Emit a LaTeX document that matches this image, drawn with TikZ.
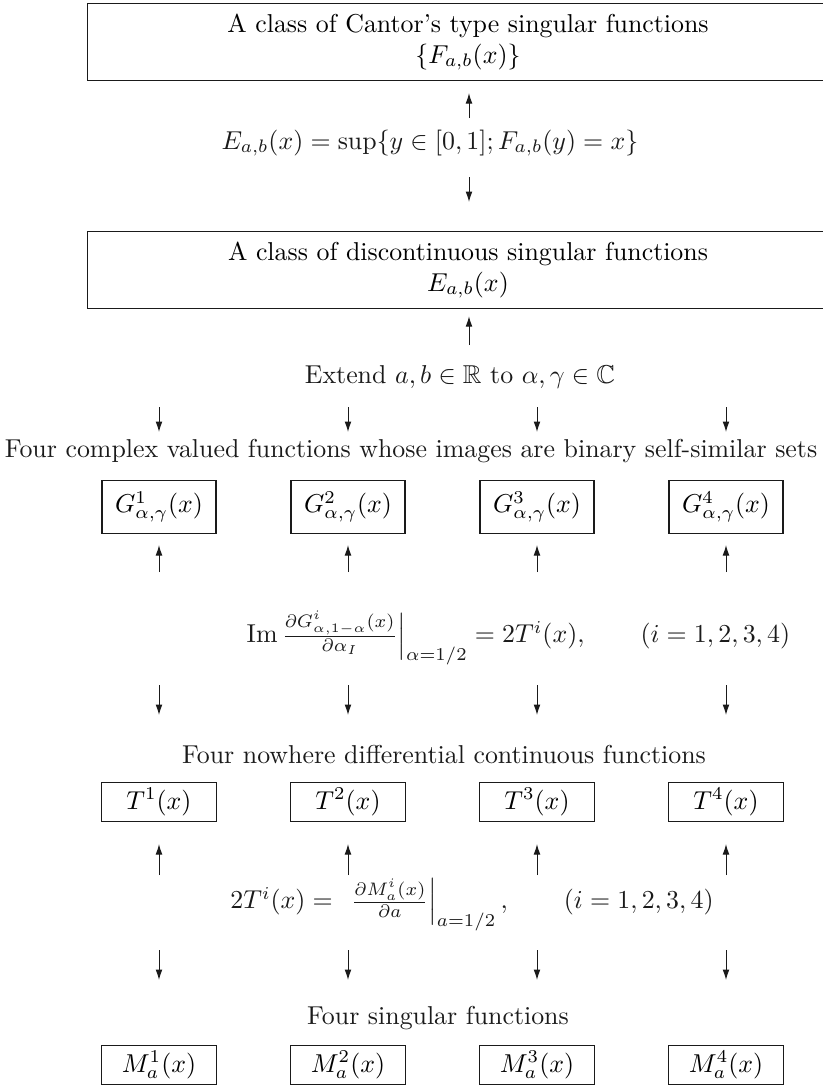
\RequirePackage{fix-cm}
\documentclass[tikz,border=0pt]{standalone}
\usepackage{amsmath}
\usepackage{amssymb}
\usetikzlibrary{arrows.meta}
\definecolor{ink}{HTML}{1A1A1A}

\begin{document}
\begin{tikzpicture}[x=0.41pt,y=-0.41pt,font=\fontsize{10.6}{12.7}\selectfont,
  wide/.style={draw=ink,line width=0.5pt,minimum width=312pt,minimum height=31.6pt,
               inner sep=0pt,align=center},
  gbox/.style={draw=ink,line width=0.5pt,minimum width=46.7pt,minimum height=21.7pt,inner sep=0pt},
  tbox/.style={draw=ink,line width=0.5pt,minimum width=47pt,minimum height=16pt,inner sep=0pt},
  lbl/.style={inner sep=1pt,text=ink},
  arr/.style={-{Latex[length=4.3pt,width=2.8pt]},ink,line width=0.4pt}]
  \useasboundingbox (0,0) rectangle (823,1088);
  % the two wide boxes
  \node[wide] (cantor) at (468,42) {A class of Cantor's type singular functions\\ $\{F_{a,b}(x)\}$};
  \node[lbl] (inv) at (430,143) {$E_{a,b}(x)=\sup\{y\in[0,1];F_{a,b}(y)=x\}$};
  \node[wide] (disc) at (468,270) {A class of discontinuous singular functions\\ $E_{a,b}(x)$};
  \node[lbl] (ext) at (460,377) {Extend $a,b\in\mathbb{R}$ to $\alpha,\gamma\in\mathbb{C}$};
  % complex valued functions
  \node[lbl] (cplx) at (411,451) {Four complex valued functions whose images are binary self-similar sets};
  \node[gbox] (g1) at (159,507) {$G^1_{\alpha,\gamma}(x)$};
  \node[gbox] (g2) at (348,507) {$G^2_{\alpha,\gamma}(x)$};
  \node[gbox] (g3) at (537,507) {$G^3_{\alpha,\gamma}(x)$};
  \node[gbox] (g4) at (726,507) {$G^4_{\alpha,\gamma}(x)$};
  \node[lbl] (imrel) at (517,638)
       {$\left.\mathrm{Im}\,\frac{\partial G^i_{\alpha,1-\alpha}(x)}{\partial\alpha_I}\right|_{\alpha=1/2}=2T^i(x),\qquad(i=1,2,3,4)$};
  % nowhere differentiable functions
  \node[lbl] (nowh) at (444,755) {Four nowhere differential continuous functions};
  \node[tbox] (t1) at (159,802) {$T^1(x)$};
  \node[tbox] (t2) at (348,802) {$T^2(x)$};
  \node[tbox] (t3) at (537,802) {$T^3(x)$};
  \node[tbox] (t4) at (726,802) {$T^4(x)$};
  \node[lbl] (mrel) at (472,905)
       {$2T^i(x)=\ \left.\frac{\partial M^i_a(x)}{\partial a}\right|_{a=1/2},\qquad(i=1,2,3,4)$};
  % singular functions
  \node[lbl] (sing) at (438,1018) {Four singular functions};
  \node[tbox] (m1) at (159,1065) {$M^1_a(x)$};
  \node[tbox] (m2) at (348,1065) {$M^2_a(x)$};
  \node[tbox] (m3) at (537,1065) {$M^3_a(x)$};
  \node[tbox] (m4) at (726,1065) {$M^4_a(x)$};
  % arrow ends
  \coordinate (up0) at (469,118);
  \coordinate (dn0) at (469,177);
  \coordinate (dn0e) at (469,202);
  \coordinate (up1) at (469,345);
  \coordinate (ga) at (159,407);
  \coordinate (gb) at (348,407);
  \coordinate (gc) at (537,407);
  \coordinate (gd) at (726,407);
  \coordinate (gae) at (159,432);
  \coordinate (gbe) at (348,432);
  \coordinate (gce) at (537,432);
  \coordinate (gde) at (726,432);
  \coordinate (ua) at (159,572);
  \coordinate (ub) at (348,572);
  \coordinate (uc) at (537,572);
  \coordinate (ud) at (726,572);
  \coordinate (ta) at (159,685);
  \coordinate (tb) at (348,685);
  \coordinate (tc) at (537,685);
  \coordinate (td) at (726,685);
  \coordinate (tae) at (159,715);
  \coordinate (tbe) at (348,715);
  \coordinate (tce) at (537,715);
  \coordinate (tde) at (726,715);
  \coordinate (va) at (159,875);
  \coordinate (vb) at (348,875);
  \coordinate (vc) at (537,875);
  \coordinate (vd) at (726,875);
  \coordinate (ma) at (159,950);
  \coordinate (mb) at (348,950);
  \coordinate (mc) at (537,950);
  \coordinate (md) at (726,950);
  \coordinate (mae) at (159,980);
  \coordinate (mbe) at (348,980);
  \coordinate (mce) at (537,980);
  \coordinate (mde) at (726,980);
  % arrows
  \draw[arr,shorten >=4.9pt] (up0) -- (up0 |- cantor.south);
  \draw[arr] (dn0) -- (dn0e);
  \draw[arr,shorten >=2.9pt] (up1) -- (up1 |- disc.south);
  \draw[arr] (ga) -- (gae);
  \draw[arr] (gb) -- (gbe);
  \draw[arr] (gc) -- (gce);
  \draw[arr] (gd) -- (gde);
  \draw[arr,shorten >=4.5pt] (ua) -- (g1);
  \draw[arr,shorten >=4.5pt] (ub) -- (g2);
  \draw[arr,shorten >=4.5pt] (uc) -- (g3);
  \draw[arr,shorten >=4.5pt] (ud) -- (g4);
  \draw[arr] (ta) -- (tae);
  \draw[arr] (tb) -- (tbe);
  \draw[arr] (tc) -- (tce);
  \draw[arr] (td) -- (tde);
  \draw[arr,shorten >=9pt] (va) -- (t1);
  \draw[arr,shorten >=9pt] (vb) -- (t2);
  \draw[arr,shorten >=9pt] (vc) -- (t3);
  \draw[arr,shorten >=9pt] (vd) -- (t4);
  \draw[arr] (ma) -- (mae);
  \draw[arr] (mb) -- (mbe);
  \draw[arr] (mc) -- (mce);
  \draw[arr] (md) -- (mde);
\end{tikzpicture}
\end{document}
